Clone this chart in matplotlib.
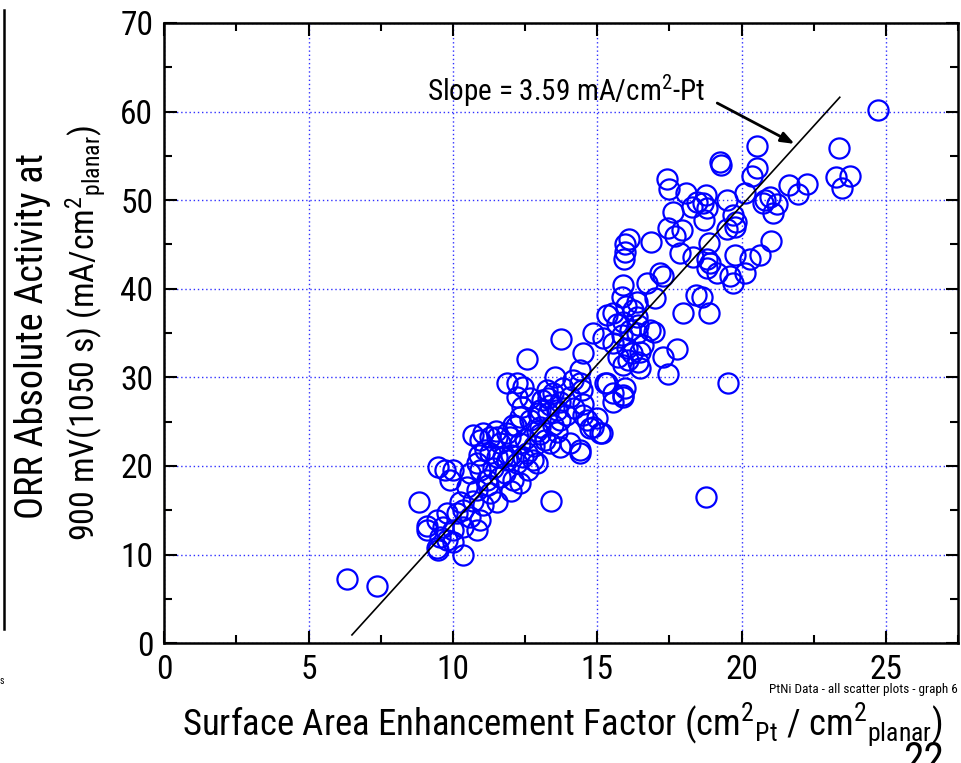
import numpy as np
import matplotlib
matplotlib.use("Agg")
import matplotlib.pyplot as plt
from matplotlib.lines import Line2D
from matplotlib.ticker import MultipleLocator

# surface area enhancement factor (x) vs ORR activity (y)
sef = [
    24.72, 20.53, 19.25, 19.30, 20.53, 20.36, 17.41, 17.48, 18.07, 18.76,
    19.49, 20.11, 21.64, 22.27, 21.95, 23.37, 23.27, 23.75, 23.48, 20.81,
    20.98, 21.22, 21.08, 20.74, 18.45, 18.28, 18.66, 18.80, 17.62, 18.69,
    19.70, 19.80, 19.77, 19.49, 17.45, 17.93, 17.69, 18.87, 21.01, 16.09,
    15.96, 15.96, 15.92, 16.86, 17.86, 18.31, 18.80, 18.90, 18.80, 19.14,
    19.60, 19.70, 19.77, 20.29, 20.63, 20.11, 17.17, 17.27, 15.89, 16.72,
    17.00, 15.85, 16.37, 18.42, 18.63,
    15.54, 16.23, 17.97, 18.87, 16.37, 15.89, 16.41, 16.96, 15.85, 14.84,
    15.19, 13.74, 15.54, 16.37, 14.50, 15.71, 16.20, 16.48, 16.06, 16.41,
    16.48, 17.27, 17.76, 17.45, 19.53, 14.16, 15.26, 14.46, 14.40, 15.96,
    15.54, 15.89, 14.50, 14.99, 15.16, 14.84, 18.76,
    16.13, 15.68, 16.82, 16.03, 16.60, 15.90, 15.33, 16.00,
    12.56, 12.21, 12.42, 13.53, 13.25, 13.46, 13.29, 13.36, 13.01, 13.70,
    14.05, 14.40, 15.33, 15.54, 15.88, 12.21, 12.66, 12.32, 12.66, 11.04,
    11.52, 11.87, 12.08, 13.01, 13.46, 13.70, 14.64, 15.09, 14.74, 13.36,
    13.70, 14.05, 14.40, 14.40, 12.42, 12.77, 11.73, 11.28, 10.83, 11.87,
    13.39, 12.95,
    13.30, 13.60, 13.90, 13.10, 13.80, 14.20, 12.90, 14.50, 13.60, 12.40,
    8.82, 9.48, 9.72, 9.89, 10.00, 10.69, 10.93, 11.28, 11.63, 11.97,
    12.32, 12.56, 11.52, 11.87, 12.21, 10.59, 10.93, 11.17, 11.63, 12.08,
    12.32, 10.48, 10.83, 11.28, 11.52, 10.24, 10.69, 11.04, 9.79, 10.14,
    10.34, 10.59, 10.93, 9.44, 9.09, 9.65, 10.00, 10.83, 9.55, 10.34,
    9.48, 10.34, 9.79, 9.10, 9.44, 10.00,
    11.10, 11.40, 11.80, 12.00, 12.60, 12.90, 11.20, 12.50, 12.80, 13.00,
    11.50, 10.90, 12.20, 13.20, 12.00,
    6.32, 7.36,
]
activity = [
    60.2, 56.1, 54.3, 54.0, 53.6, 52.7, 52.4, 51.3, 50.8, 50.6,
    50.0, 50.8, 51.7, 51.8, 50.7, 55.9, 52.6, 52.7, 51.4, 50.0,
    50.4, 49.6, 48.5, 49.7, 49.8, 49.2, 49.7, 49.1, 48.7, 47.8,
    48.3, 47.5, 47.0, 46.7, 46.9, 46.6, 46.0, 45.2, 45.4, 45.6,
    45.0, 44.2, 43.4, 45.3, 44.0, 43.6, 43.4, 42.9, 42.3, 41.8,
    41.4, 40.6, 43.8, 43.4, 43.8, 41.8, 41.8, 41.4, 40.4, 40.6,
    39.0, 39.1, 38.5, 39.3, 39.1,
    37.3, 37.6, 37.3, 37.3, 36.8, 36.2, 35.9, 35.1, 34.8, 35.0,
    34.4, 34.3, 33.9, 35.0, 32.7, 32.3, 32.7, 32.9, 32.0, 31.7,
    31.0, 32.3, 33.2, 30.4, 29.4, 29.7, 29.4, 28.6, 30.8, 28.8,
    27.2, 28.0, 25.7, 25.4, 23.7, 24.4, 16.5,
    35.3, 36.0, 35.4, 33.3, 33.6, 31.4, 37.0, 38.0,
    32.1, 29.4, 28.9, 30.0, 28.6, 28.2, 27.7, 26.9, 26.3, 27.2,
    27.8, 29.4, 29.4, 28.2, 27.8, 27.8, 27.7, 25.5, 25.2, 23.7,
    23.3, 23.7, 24.6, 24.4, 24.6, 25.2, 25.2, 23.7, 24.3, 22.6,
    22.1, 22.6, 21.8, 21.5, 21.0, 20.7, 21.0, 21.5, 20.3, 29.4,
    16.1, 26.0,
    26.0, 26.3, 25.8, 27.5, 28.8, 26.5, 24.0, 27.0, 23.8, 26.6,
    15.9, 19.9, 19.5, 18.4, 19.6, 23.5, 22.9, 23.3, 22.6, 23.3,
    22.6, 21.5, 21.0, 20.7, 20.3, 19.2, 19.5, 18.4, 18.7, 18.4,
    18.1, 17.6, 17.3, 16.9, 15.9, 15.9, 16.1, 15.6, 14.7, 14.7,
    15.0, 14.2, 13.9, 13.9, 12.8, 13.1, 12.8, 12.8, 12.0, 13.1,
    10.5, 10.0, 11.6, 13.2, 10.8, 11.4,
    21.8, 19.8, 19.2, 21.2, 19.6, 20.3, 17.8, 23.0, 22.2, 23.6,
    24.0, 21.2, 24.5, 22.9, 17.2,
    7.3, 6.5,
]

# least squares line drawn on the slide
slope = 3.59
intercept = -22.4
fit_x = [6.5, 23.4]

x_ticks = [0, 5, 10, 15, 20, 25]
y_ticks = [0, 10, 20, 30, 40, 50, 60, 70]

plt.rcParams['font.family'] = ['Roboto Condensed', 'DejaVu Sans']
plt.rcParams['mathtext.fontset'] = 'custom'
plt.rcParams['mathtext.rm'] = 'Roboto Condensed'
plt.rcParams['mathtext.it'] = 'Roboto Condensed'

fig = plt.figure(figsize=(9.61, 7.63), dpi=100)
ax = fig.add_axes([0.171, 0.157, 0.826, 0.813])

ax.plot(sef, activity, 'o', ms=14.5, mfc='none', mec='#0000ff', mew=1.6, zorder=3)
fx = np.array(fit_x)
ax.plot(fx, slope * fx + intercept, color='black', lw=1.2, zorder=4)

ax.set_xlim(0, 27.5)
ax.set_ylim(0, 70)
ax.set_xticks(x_ticks)
ax.set_yticks(y_ticks)
ax.xaxis.set_minor_locator(MultipleLocator(2.5))
ax.yaxis.set_minor_locator(MultipleLocator(5))
ax.tick_params(which='both', direction='in', top=True, right=True, width=1.5, labelsize=24, pad=8)
ax.tick_params(which='major', length=9)
ax.tick_params(which='minor', length=6)
ax.grid(True, which='major', color='#3030ff', linestyle=(0, (1, 2)), lw=1)
for sp in ax.spines.values():
    sp.set_linewidth(1.8)

ax.text(9.1, 62.3, r'Slope = 3.59 mA/cm$^2$-Pt', fontsize=21, va='center', ha='left')
ax.annotate('', xy=(21.92, 56.2), xytext=(19.07, 61.1),
            arrowprops=dict(arrowstyle='-|>,head_length=0.8,head_width=0.3', color='black', lw=2))

fig.text(0.585, 0.0367, r'Surface Area Enhancement Factor (cm$^2$$_{\mathrm{Pt}}$ / cm$^2$$_{\mathrm{planar}}$)',
         fontsize=26.5, ha='center', va='baseline')
fig.text(0.0447, 0.5596, 'ORR Absolute Activity at', fontsize=27.5, rotation=90,
         rotation_mode='anchor', ha='center', va='baseline')
fig.text(0.0989, 0.5636, r'900 mV(1050 s) (mA/cm$^2$$_{\mathrm{planar}}$)', fontsize=24.5,
         rotation=90, rotation_mode='anchor', ha='center', va='baseline')

fig.text(0.8, 0.0957, 'PtNi Data - all scatter plots - graph 6', fontsize=9.5, ha='left', va='center')
fig.text(0.961, 0.0301, '22', fontsize=30, ha='center', va='top')
fig.text(0.0, 0.108, 's', fontsize=7, ha='left', va='center')
fig.add_artist(Line2D([0.004, 0.004], [0.175, 0.987], color='black', lw=1.8))

fig.savefig('out.png', dpi=100)
